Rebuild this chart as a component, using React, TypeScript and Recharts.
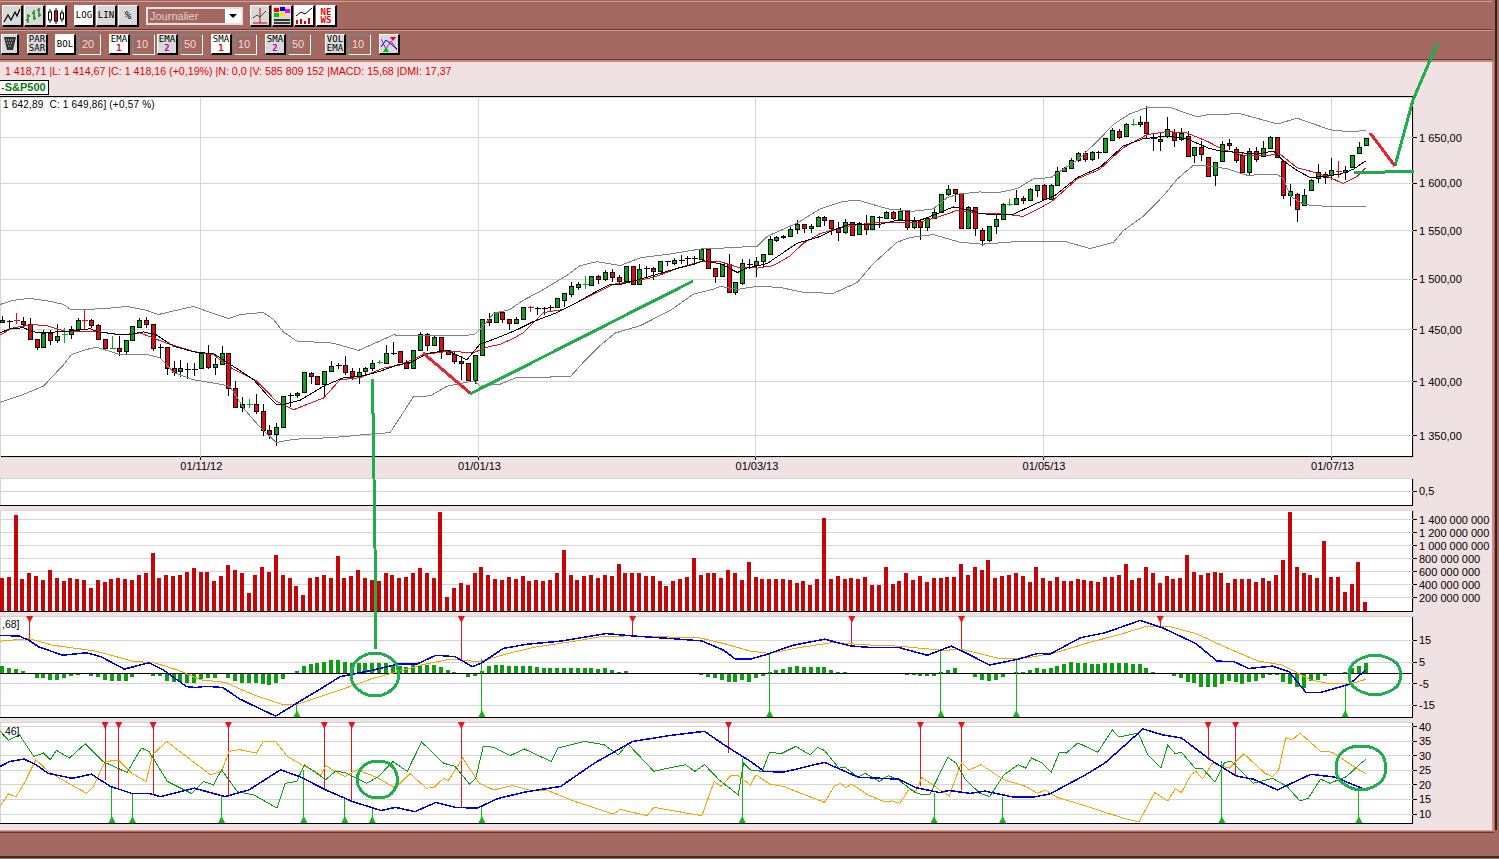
import React from 'react'
import {
  ComposedChart,
  Bar,
  Line,
  XAxis,
  YAxis,
  CartesianGrid,
  ReferenceLine,
  ReferenceDot,
} from 'recharts'

// daily S&P500 candles
const opens = [
  1458, 1459, 1459.5, 1459, 1456, 1441, 1433, 1447, 1440, 1445,
  1446, 1451, 1460, 1460, 1455, 1441, 1432, 1432, 1429, 1440,
  1453, 1460, 1456, 1433.5, 1433, 1413.5, 1410, 1412, 1412, 1413,
  1428, 1414, 1417, 1428, 1394, 1377, 1379, 1379, 1373, 1355,
  1352, 1358, 1388, 1388, 1391, 1408.5, 1406, 1398, 1410, 1416,
  1416, 1410, 1406, 1410, 1413, 1418, 1418, 1428, 1429, 1419,
  1413, 1430, 1446, 1435, 1443, 1430, 1427, 1420, 1418, 1402,
  1426, 1461, 1458, 1467, 1461, 1457, 1461, 1472, 1471, 1471,
  1472, 1472, 1479, 1485, 1492, 1495, 1494, 1503, 1500, 1508,
  1502, 1498, 1514, 1495, 1512, 1512, 1509, 1518.5, 1517, 1520,
  1522, 1522, 1521, 1531, 1512, 1503, 1516, 1487, 1496, 1516,
  1515, 1519, 1526, 1540, 1543, 1544, 1552, 1557, 1553, 1555,
  1564, 1561, 1553, 1549, 1559, 1547, 1557, 1552, 1564, 1563,
  1570, 1562, 1571, 1554, 1560, 1554, 1563, 1570, 1589, 1594,
  1590, 1553, 1575, 1551, 1540, 1555, 1562, 1578, 1578, 1585,
  1582, 1593, 1598, 1583, 1598, 1614, 1617, 1626, 1633, 1627,
  1634, 1634, 1648, 1658, 1652, 1665, 1665, 1668, 1650, 1647,
  1652, 1656, 1649, 1652, 1631, 1640, 1629, 1609, 1625, 1644,
  1638, 1631, 1612, 1636, 1630, 1639, 1651, 1625, 1588, 1589,
  1577, 1593, 1606, 1610, 1609, 1614, 1612, 1618, 1633, 1642,
]
const highs = [
  1464, 1460, 1466, 1463, 1462, 1441, 1450, 1450, 1456, 1452,
  1454, 1462, 1470, 1461, 1456, 1441, 1444, 1444, 1440, 1454,
  1462, 1463, 1456, 1436, 1433, 1420, 1421, 1418, 1418, 1428,
  1435, 1423, 1434, 1428, 1401, 1386, 1384, 1389, 1379, 1360,
  1362, 1387, 1390, 1391, 1409, 1409, 1406, 1410, 1420, 1418,
  1425, 1413, 1413, 1414, 1421, 1421, 1435, 1438, 1429, 1421,
  1430, 1448, 1447, 1444, 1443, 1430, 1429, 1425, 1418, 1426,
  1461, 1466, 1467, 1468, 1461, 1463, 1472, 1473, 1472, 1472,
  1474, 1481, 1486, 1497, 1497, 1503, 1503, 1504, 1510, 1511,
  1504, 1514, 1514, 1516, 1514, 1513, 1519, 1519, 1522, 1525,
  1524, 1524, 1531, 1531, 1512, 1516, 1526, 1497, 1521, 1521,
  1523, 1526, 1545, 1545, 1546, 1554, 1561, 1557, 1557, 1565,
  1565, 1561, 1559, 1562, 1559, 1559, 1566, 1565, 1565, 1571,
  1571, 1574, 1571, 1564, 1562, 1563, 1575, 1589, 1598, 1594,
  1590, 1576, 1575, 1553, 1555, 1566, 1579, 1583, 1593, 1587,
  1595, 1598, 1599, 1599, 1618, 1618, 1628, 1634, 1635, 1635,
  1636, 1650, 1661, 1660, 1667, 1671, 1674, 1686, 1655, 1655,
  1673, 1660, 1661, 1658, 1640, 1646, 1629, 1623, 1646, 1649,
  1640, 1633, 1639, 1640, 1647, 1652, 1651, 1625, 1599, 1590,
  1594, 1605, 1621, 1612, 1628, 1625, 1619, 1631, 1645, 1650,
]
const lows = [
  1457, 1450, 1456, 1452, 1441, 1430, 1433, 1435, 1437, 1437,
  1441, 1451, 1451, 1452, 1441, 1430, 1431, 1425, 1426, 1440,
  1453, 1452, 1429, 1422, 1407, 1406, 1405, 1403, 1406, 1412,
  1412, 1407, 1417, 1387, 1377, 1372, 1376, 1370, 1350, 1347,
  1341, 1358, 1377, 1385, 1391, 1398, 1398, 1385, 1410, 1412,
  1407, 1402, 1398, 1406, 1410, 1417, 1418, 1426, 1419, 1412,
  1413, 1430, 1429, 1434, 1422, 1427, 1417, 1402, 1400, 1398,
  1426, 1454, 1458, 1457, 1450, 1457, 1461, 1467, 1465, 1465,
  1467, 1471, 1472, 1482, 1489, 1490, 1494, 1495, 1498, 1497,
  1496, 1498, 1494, 1495, 1500, 1499, 1509, 1514, 1515, 1516,
  1515, 1515, 1521, 1511, 1496, 1503, 1487, 1484, 1494, 1511,
  1502, 1512, 1526, 1538, 1541, 1543, 1547, 1548, 1548, 1555,
  1555, 1546, 1539, 1547, 1544, 1547, 1546, 1552, 1553, 1563,
  1561, 1562, 1551, 1552, 1540, 1550, 1563, 1570, 1587, 1580,
  1553, 1553, 1544, 1534, 1538, 1547, 1562, 1576, 1578, 1578,
  1581, 1586, 1583, 1583, 1598, 1614, 1617, 1623, 1623, 1625,
  1627, 1634, 1646, 1649, 1652, 1663, 1662, 1649, 1635, 1636,
  1650, 1640, 1647, 1630, 1622, 1624, 1607, 1597, 1625, 1637,
  1622, 1610, 1608, 1623, 1630, 1639, 1628, 1583, 1576, 1559,
  1577, 1593, 1601, 1600, 1604, 1606, 1604, 1618, 1633, 1642,
]
const closes = [
  1460, 1459, 1459, 1456, 1441, 1433, 1447, 1440, 1444, 1445.5,
  1451, 1460, 1459.5, 1455, 1441, 1432, 1432.5, 1429, 1440, 1454,
  1460, 1456, 1432, 1433.5, 1413, 1409, 1413, 1412, 1412, 1428,
  1414, 1417, 1428, 1394, 1377, 1379, 1379.5, 1373, 1355, 1352,
  1358, 1387, 1388, 1390, 1409, 1406, 1398, 1410, 1415, 1416,
  1409, 1406, 1409, 1413, 1418, 1418.5, 1428, 1428, 1419, 1413,
  1430, 1446, 1435, 1443, 1430, 1427, 1420, 1418, 1402, 1426,
  1461, 1458, 1467, 1461, 1457, 1461, 1472, 1471.5, 1471, 1471,
  1472, 1481, 1486, 1493, 1495, 1495.5, 1503, 1500, 1508, 1502,
  1498, 1514, 1495, 1511, 1512, 1509, 1519, 1518.5, 1520, 1520,
  1522, 1522, 1531, 1512, 1503, 1516, 1487, 1497, 1517, 1516,
  1519, 1526, 1541, 1543, 1545, 1552, 1557, 1553, 1555, 1564,
  1561, 1553, 1549, 1559, 1546, 1558, 1552, 1565, 1564, 1570,
  1563, 1571, 1554, 1560, 1554, 1563, 1570, 1589, 1594, 1590,
  1553, 1575, 1553, 1540, 1555, 1562, 1578, 1578.5, 1585, 1582,
  1594, 1598, 1583, 1598, 1614, 1617, 1626, 1633, 1627, 1634,
  1634, 1650, 1659, 1651, 1666, 1665.5, 1668, 1655, 1650, 1649,
  1660, 1648, 1655, 1630, 1640, 1632, 1608, 1623, 1643, 1642,
  1626, 1613, 1636, 1627, 1639, 1651, 1629, 1588, 1592, 1573,
  1588, 1604, 1613, 1607, 1615, 1613.5, 1615, 1631, 1640, 1650,
]

// volume in millions of shares
const volumes = [
  513, 528, 1467, 498, 590, 544, 482, 636, 513, 467,
  513, 498, 482, 359, 482, 451, 498, 513, 498, 482,
  559, 575, 882, 513, 559, 544, 559, 605, 652, 605,
  605, 467, 544, 698, 621, 575, 282, 559, 667, 605,
  852, 559, 513, 390, 251, 513, 528, 559, 513, 836,
  513, 544, 621, 513, 482, 467, 575, 559, 513, 528,
  575, 652, 575, 513, 1513, 221, 359, 436, 405, 590,
  667, 559, 498, 482, 528, 498, 544, 467, 482, 467,
  482, 590, 929, 559, 482, 544, 559, 513, 559, 544,
  713, 575, 575, 575, 544, 544, 467, 390, 467, 498,
  528, 805, 559, 590, 590, 513, 636, 575, 482, 744,
  528, 498, 498, 498, 498, 482, 436, 467, 405, 498,
  1421, 498, 544, 498, 513, 498, 528, 405, 405, 667,
  421, 467, 575, 482, 544, 451, 513, 513, 528, 528,
  713, 559, 682, 621, 775, 513, 544, 559, 575, 544,
  451, 667, 513, 467, 528, 467, 467, 498, 482, 467,
  451, 528, 528, 559, 713, 482, 513, 667, 590, 436,
  544, 498, 513, 852, 605, 559, 575, 605, 575, 436,
  498, 498, 498, 451, 513, 467, 559, 775, 1513, 667,
  590, 559, 513, 1067, 528, 528, 298, 421, 744, 144,
]

const macdHist = [
  3.4, 2.4, 2, 1.1, 0, -2.1, -2.1, -3.1, -3.1, -2.1,
  -1.2, -0.9, -0.6, -1.2, -1.8, -3.1, -3.5, -3.7, -3.7, -1.8,
  -0.5, 0, -1.4, -1.4, -3.5, -4.3, -4.3, -4.7, -4.7, -2.6,
  -2.1, -2.1, -0.5, -2.1, -3.7, -4.4, -4.4, -4.7, -5.3, -5.6,
  -4.7, -2.7, -0.5, 1.1, 3.4, 4.1, 4.6, 5.2, 6.1, 6.1,
  5.2, 4.6, 4.4, 4.4, 4.4, 4.4, 4.4, 3.7, 3.4, 2.9,
  3.7, 3.7, 3.7, 3.7, 2.9, 1.4, 0.5, 0, -2, -1.2,
  1.1, 3.4, 3.8, 3.5, 3.4, 3.4, 3.4, 3.4, 2.9, 2.4,
  2.4, 2.4, 2.4, 2.4, 2.4, 2.4, 2.4, 1.8, 2.4, 1.4,
  0.6, 1.1, 0, 0, 0, 0, 0, 0, 0, 0,
  0, -0.5, -0.9, -1.7, -2.4, -3.2, -4.3, -4.3, -3.2, -4,
  -2.1, -1.2, 0.3, 1.4, 1.8, 2.9, 3.4, 2.9, 2.9, 2.9,
  2.6, 1.4, 0.6, 0.3, -0.3, -0.5, -0.5, -0.5, 0, 0,
  0, 0, -0.9, -1.1, -1.2, -1.5, -1.5, 0.6, 1.5, 2.1,
  0, -0.6, -1.8, -3.2, -3.5, -3.1, -1.7, -0.6, 0.6, 0.6,
  1.4, 2.4, 1.8, 2.1, 3.2, 4.3, 5.2, 4.7, 4.4, 4,
  4.1, 4.7, 4.7, 4.7, 4.6, 4.1, 4, 2.4, 0.6, 0,
  -0.6, -1.2, -2.1, -4, -4.4, -6.6, -6.6, -6.3, -5.2, -3.7,
  -4.3, -5, -4, -3.5, -2.4, -0.9, -0.9, -4, -5.2, -6.3,
  -6.7, -3.7, -3.2, -1.2, 0, 0, 0.6, 2.1, 3.4, 4.7,
]

type Knot = [number, number] // bar number, value

const bollUpper: Knot[] = [
  [-0.3, 1475], [1.6, 1479], [4, 1481], [7, 1478], [8.9, 1475], [10, 1470], [12.3, 1470], [15.2, 1471],
  [18.2, 1473], [21.1, 1469], [22.8, 1465], [24, 1467], [27.9, 1473], [30.8, 1466], [33, 1461], [34.7, 1465],
  [38.1, 1467], [39.6, 1460], [41, 1448], [43, 1439], [45.9, 1438], [48.3, 1437], [52, 1430], [57.1, 1445],
  [60.5, 1444], [68.8, 1445], [70, 1452], [71.7, 1466], [74.1, 1470], [76, 1479], [78.5, 1488], [82.4, 1504],
  [84.3, 1514], [86.8, 1518], [90.2, 1514], [93.1, 1522], [97.5, 1526], [101.9, 1531], [105.2, 1532], [110.2, 1534],
  [111.6, 1544], [116, 1558], [119.4, 1573], [122.7, 1581], [125, 1582], [129.2, 1573], [133, 1570.5], [135.9, 1573],
  [137.9, 1585], [139.8, 1589], [142.7, 1591], [145.2, 1590], [148.1, 1594.5], [150.5, 1605], [153, 1606.5], [157, 1626],
  [159.8, 1646], [162.2, 1665], [164.6, 1677], [167.1, 1684], [170.5, 1684], [174.4, 1673.5], [175.9, 1676], [180.7, 1677],
  [186.1, 1665.5], [189, 1672], [193.8, 1659], [196.3, 1657], [199, 1658],
]
const bollLower: Knot[] = [
  [-0.3, 1381], [2.6, 1387], [6, 1396], [8.9, 1416], [10.1, 1426], [12.3, 1431], [13.8, 1433], [17.2, 1426],
  [21.1, 1426], [23, 1423], [25, 1409], [27.9, 1402], [30.8, 1399], [33.2, 1396], [35.4, 1374], [37.6, 1358],
  [40, 1344], [42.5, 1347], [48.3, 1348.5], [54.2, 1352], [56.6, 1353], [58.1, 1367.5], [60, 1386], [62.5, 1387],
  [64.9, 1396], [68.8, 1401], [69.8, 1396], [72.7, 1398], [75, 1404], [82.9, 1405], [85, 1420], [87.3, 1435],
  [89.5, 1447], [93.1, 1454], [97.5, 1469], [100.8, 1485], [103.7, 1490], [104.8, 1493], [107.3, 1490], [110.2, 1493],
  [113.5, 1492], [116.9, 1487], [121.3, 1486], [124.8, 1497], [127.1, 1516], [130.6, 1538], [132.5, 1543], [135.9, 1546],
  [139.8, 1538], [143, 1536], [147.5, 1538.4], [151.9, 1539], [155, 1539], [158.8, 1531.5], [162.2, 1538], [163.6, 1550],
  [166.5, 1565], [169.5, 1587], [171.5, 1605], [173.8, 1619.5], [175.1, 1620], [178.8, 1616], [181.7, 1609], [186.1, 1610],
  [187, 1605], [188, 1586.5], [190, 1577.5], [194.3, 1575], [199, 1575],
]
const emaOne: Knot[] = [
  [-0.3, 1447], [1.1, 1451], [3.1, 1452], [4.5, 1448], [6, 1447], [8, 1448], [10.4, 1449], [12.8, 1451],
  [14, 1448], [16.2, 1446], [18.2, 1445], [20.6, 1448], [22.5, 1445], [25, 1434], [28.4, 1428], [30.8, 1427],
  [33.2, 1417], [36.7, 1402], [38.6, 1388], [40, 1379], [41, 1379], [43.5, 1383], [46.9, 1396], [49.8, 1404],
  [52.2, 1405], [55.1, 1410], [57.6, 1416], [59.5, 1418], [62, 1427], [64.9, 1430], [67.8, 1421], [69.7, 1436],
  [72.2, 1442], [75.1, 1450], [77.5, 1458], [81, 1467], [83.9, 1477], [86.2, 1486], [88.7, 1495], [90.2, 1495],
  [91.6, 1497.5], [95, 1504], [98.9, 1512], [100.8, 1515], [102.3, 1519], [104.8, 1516], [107.3, 1507], [108.7, 1511.5],
  [111.6, 1516], [113.5, 1525], [116, 1537], [119.4, 1544], [120.8, 1549], [123.3, 1556], [127.7, 1556], [130.6, 1561],
  [134, 1561], [136.5, 1568], [138.8, 1575], [141.3, 1571.5], [142.7, 1568], [144.6, 1567], [147.5, 1567], [151, 1579],
  [153.6, 1587], [156.9, 1606.5], [160.2, 1617.5], [163.6, 1641], [166.5, 1649], [170, 1652], [172.9, 1649], [175.9, 1639],
  [177.7, 1635.5], [180.2, 1634], [183.1, 1632], [185.5, 1635.5], [187, 1624.6], [189, 1614], [190.9, 1606.5], [192.8, 1607.6],
  [195.2, 1610], [197.2, 1615.5], [199, 1624.6],
]
const smaOne: Knot[] = [
  [-0.3, 1445], [1.6, 1452], [4.5, 1455], [6.5, 1454], [9.4, 1448], [14.3, 1448], [17.2, 1445], [20.1, 1447],
  [24, 1437], [27.9, 1429], [30.8, 1426], [33.7, 1412], [37.1, 1401], [40, 1382], [42.5, 1374], [44.9, 1380],
  [46.9, 1385], [49.3, 1402], [52.2, 1404], [55.6, 1413], [58, 1416], [61.5, 1426], [64.9, 1429], [68.8, 1428],
  [70.7, 1433], [72.7, 1436], [74.4, 1441], [76, 1447], [77.5, 1457], [79, 1467], [81.9, 1470], [83.9, 1477],
  [87.7, 1490], [89.1, 1495], [91.6, 1497.5], [95, 1502], [98.9, 1512], [101.9, 1518], [104.8, 1518], [107.3, 1512.5],
  [110.2, 1511.5], [112.5, 1514], [115, 1524], [116.9, 1537], [119.4, 1547], [122.7, 1554], [126.7, 1558], [130, 1559],
  [134, 1559], [136.9, 1565], [139.4, 1571.5], [143, 1568], [145.6, 1568], [149, 1565], [151, 1572], [153.2, 1581],
  [156.9, 1605], [160.2, 1615.5], [163.6, 1639], [167.1, 1653.6], [170, 1657], [172.9, 1655.4], [175.9, 1646], [178.2, 1637],
  [181.1, 1631], [183.6, 1630], [186.5, 1632], [189, 1617], [191.3, 1612.6], [193.8, 1606.5], [195.7, 1600], [197.8, 1608],
  [199, 1617],
]

const macdLine: Knot[] = [
  [-0.3, 17.4], [2.5, 17], [3.9, 15.1], [5.3, 12.1], [8.8, 8.2], [12.3, 9.3], [14.4, 7.5], [17.8, 1.8],
  [21.4, 4.7], [23.5, 1.4], [26.9, -6.3], [28.3, -6.7], [29.7, -6.1], [32.2, -6.7], [34.6, -11.9], [37.4, -16.2],
  [39.9, -19.9], [43, -13.9], [45.8, -8.6], [49.3, -1.7], [54.2, 1.4], [57.7, 4.1], [60.5, 4.1], [63.3, 8.2],
  [66.1, 7.5], [68.6, 2.9], [70, 4.7], [73.1, 11.3], [76.6, 13.3], [81.5, 14.7], [88.1, 18.2], [92, 17.1],
  [97.6, 15.9], [102.1, 14.8], [105.3, 10.5], [107, 6.4], [109.2, 6.4], [111.2, 8.2], [115.4, 12.8], [120, 15.6],
  [123.8, 12.5], [126.6, 11.8], [130.8, 11.8], [135, 8.2], [138.5, 12.4], [140.3, 9.8], [144.1, 3.7], [148.3, 6.4],
  [151.1, 9], [152.9, 8.7], [157.4, 16.3], [160.9, 18.5], [166.1, 24.3], [169.3, 20.9], [174.2, 13.6], [177.3, 5.5],
  [179.8, 5.2], [181.9, 2.1], [185.4, 3.2], [187.8, 0.6], [190.3, -9], [192.4, -9], [196.6, -5.2], [199, 1.4],
]
const macdSignal: Knot[] = [
  [-0.3, 14.7], [3.9, 15.9], [7.4, 12.8], [13.7, 10.1], [19.3, 5.2], [22, 4.9], [25.6, 1.4], [29, -3.2],
  [32.5, -4.3], [36.7, -10.1], [41, -14.7], [43, -14.4], [48.6, -8.6], [54.2, -2.4], [57.7, 0.6], [61.2, 3.7],
  [65.4, 6.4], [69.6, 5.2], [73.8, 9], [78, 12.1], [83.6, 14.7], [87.8, 17], [92, 17.1], [101.8, 16.2],
  [105.3, 13.6], [109.2, 10.1], [112, 9], [116.1, 11.6], [121, 14], [127.3, 12.8], [130.8, 12.4], [137.1, 10.5],
  [140.3, 10.8], [145.5, 6.7], [149.7, 7], [153.9, 9.5], [158.1, 13.6], [163, 17.7], [167.2, 21.7], [170.7, 21.2],
  [174.2, 18.2], [178.4, 12.1], [183.3, 5.5], [186.8, 3.7], [191, -3.2], [193.8, -5], [196.6, -5], [197.6, -4.3],
  [199, -2.9],
]

const adxLine: Knot[] = [
  [-0.3, 26.4], [1.1, 28.1], [3.2, 28.9], [4.9, 27], [6.7, 24], [10.2, 22.3], [13, 23.7], [15.8, 19.5],
  [18.9, 17.1], [21.4, 17.1], [23.1, 16], [28, 18.9], [32.5, 16], [36, 18.3], [40.6, 25.2], [43.4, 22.9],
  [47.2, 18.3], [51.1, 14.3], [55.3, 11.2], [57.4, 12.3], [60.2, 10.8], [63.3, 14], [66.1, 12.3], [69.3, 12],
  [72.4, 15.4], [76.6, 17.7], [81.5, 19.5], [86.4, 27.5], [92, 35], [97.6, 37.1], [102.5, 38.5], [105.3, 33.9],
  [109.2, 28.1], [111.2, 24.7], [114, 24.4], [120, 27.8], [124.9, 22.7], [130.8, 22], [133.3, 19.1], [136.8, 17.4],
  [138.2, 18.1], [141.3, 17.1], [143.4, 17.9], [147.6, 15.8], [150.4, 15.8], [152.9, 16.9], [158.1, 23.5], [160.9, 27.5],
  [166.5, 39.3], [169.3, 37.3], [172.1, 36.2], [176.3, 28.7], [180.1, 23.1], [182.6, 22], [186.1, 18.3], [191, 23.7],
  [194.5, 22.7], [197.6, 19.7], [199, 18.3],
]
const diPlus: Knot[] = [
  [-0.3, 38.5], [0.9, 35.4], [2.5, 37.3], [4.6, 29.8], [6, 31], [7, 28.7], [7.9, 31.9], [9.8, 29.3],
  [12.1, 34.2], [14.7, 28.1], [18.2, 24.3], [20.3, 32.7], [21.4, 31.6], [24.1, 21.2], [27.6, 17.1], [29.4, 21.2],
  [30.8, 20], [32, 25.2], [34.3, 17.7], [36.7, 16.6], [40.1, 12], [41.3, 20.6], [43, 21.2], [44.1, 27],
  [47.2, 21.8], [48.6, 24.7], [50, 24.3], [53.2, 20.6], [54.9, 22.9], [57, 28.1], [59.1, 24.7], [61.2, 34.8],
  [64.4, 27.5], [66.1, 26.4], [68.2, 20.3], [69.1, 22.3], [70.2, 33.3], [71.7, 33], [74.1, 30.1], [76.2, 32.4],
  [80.1, 28.1], [81.1, 32.7], [85, 35], [87.8, 33.9], [89.9, 30.4], [91.3, 34.2], [95.1, 24.7], [97.2, 25.8],
  [99.7, 27], [101.1, 24.7], [102.5, 27], [104.6, 21.8], [107.4, 16.6], [108.2, 27.5], [109.2, 25.2], [110.9, 24.7],
  [112, 31.3], [113.7, 30.8], [115.8, 33.3], [117.9, 30.4], [119, 33], [120, 31.9], [122.1, 25.8], [123, 26.1],
  [124.9, 22.7], [126, 24], [128, 21.2], [129.3, 23.2], [130.8, 21.8], [133, 17.7], [134.3, 16.6], [135.4, 16.9],
  [138, 29.6], [139.2, 27.5], [140.6, 21.8], [142.7, 17.1], [144.1, 16], [146.2, 23.5], [148.3, 27], [149.4, 25.8],
  [150.2, 29.3], [151.8, 27.5], [153.1, 24.4], [154.3, 31.3], [155.3, 31], [157, 34.5], [159.9, 31.3], [162, 39],
  [163, 36.5], [165.8, 37.9], [167.2, 30.4], [169.1, 25.8], [170.1, 33.7], [171.2, 30.8], [172.1, 31.3], [174.2, 25.5],
  [175.2, 25.6], [177, 21], [178.4, 27.8], [179.4, 28.1], [182.6, 20.6], [185.4, 22.3], [187.5, 19.5], [189.4, 14.5],
  [190.6, 15.4], [192.4, 22], [193.8, 20.6], [196.2, 22.9], [198.3, 27.5], [199, 28.7],
]
const diMinus: Knot[] = [
  [-0.3, 12.8], [0.9, 16.9], [2, 16], [3.2, 20.6], [4.9, 28.7], [6.7, 24.7], [8.8, 21.8], [12.3, 17.1],
  [13.3, 19.5], [15, 28.1], [17, 28.5], [18.9, 24], [21, 21.2], [21.9, 30.4], [24, 35], [27.6, 28.5],
  [30.4, 23.5], [32, 24.7], [33.1, 31.6], [34.6, 32.2], [37.1, 31], [38.1, 35], [39.9, 35], [41.6, 29.8],
  [43.7, 27], [46.5, 23.5], [47.2, 26.6], [50, 22.9], [51.8, 25.2], [54.6, 22.7], [57.4, 18.9], [59.5, 24],
  [61.9, 18.9], [63, 19.1], [64.4, 22.3], [65.1, 21.5], [67.2, 29.3], [69.6, 20.6], [71.7, 18.3], [74.5, 19.8],
  [77.3, 18], [79.4, 18.3], [83.6, 14.3], [89.2, 10], [90.2, 11.6], [94.1, 9.4], [95.1, 12.3], [102.1, 9.4],
  [103.9, 21.2], [104.9, 19.5], [106.3, 23.2], [107.4, 23.2], [109.2, 20], [110, 23.5], [112, 20.3], [114, 19.5],
  [116.8, 16.9], [120, 14], [121.4, 19.5], [122.3, 20.6], [123.1, 19.1], [124, 20.3], [126.3, 16.6], [128.7, 14.3],
  [129.8, 14.5], [131, 13.7], [132.4, 18.9], [133.3, 17.7], [134.2, 22.6], [138.2, 16.2], [140, 27.8], [141.1, 25.2],
  [142.9, 27], [146.2, 21.8], [149.4, 19.5], [151.1, 17.1], [152.2, 18.3], [153.9, 15.8], [158.1, 12.8], [163.7, 8.5],
  [165.9, 7.3], [168.2, 17.4], [170.1, 14.5], [171.2, 18.7], [172.1, 17.4], [173.5, 23.5], [174.2, 24.7], [175.2, 22.1],
  [176.6, 27.5], [179.1, 25.8], [181.2, 30.8], [184.3, 24], [185.4, 22.9], [186.3, 25.2], [187.3, 36.2], [188.3, 35.6],
  [189.4, 37.9], [192.4, 31.6], [194.1, 31.3], [197.6, 25.8], [199, 24],
]

// crossing signals: bar number, value where the stem ends
const macdSell: Knot[] = [[4, 15.1], [67, 5.5], [92, 17.1], [124, 12.8], [140, 9.8], [169, 21.2]]
const macdBuy: Knot[] = [[43, -14.7], [70, 6.4], [112, 9], [137, 10.5], [148, 6.4], [196, -5.2]]
const dmiSell: Knot[] = [
  [15, 21.8], [17, 18.9], [22, 16.6], [33, 16], [47, 18.5], [51, 14.3], [67, 12.3], [106, 31],
  [134, 19.5], [140, 18.1], [176, 28.7], [180, 23.1],
]
const dmiBuy: Knot[] = [
  [16, 19.8], [19, 17.1], [32, 16.2], [44, 25.2], [50, 15.4], [54, 12.3], [70, 13.1], [108, 29.3],
  [136, 17.4], [146, 15.8], [178, 28.1], [198, 18.9],
]

const dateTicks = [28.9, 69.5, 110, 151.9, 194]
const dateLabels = ['01/11/12', '01/01/13', '01/03/13', '01/05/13', '01/07/13']
const priceTicks = [1350, 1400, 1450, 1500, 1550, 1600, 1650]
const volumeTicks = [200, 400, 600, 800, 1000, 1200, 1400]
const macdTicks = [-15, -5, 5, 15]
const dmiTicks = [10, 15, 20, 25, 30, 35, 40]

// hand drawn marks on the screenshot, in screen units
const penGreen: Knot[][] = [
  [[372.3, 379], [372.3, 413], [373.3, 414], [374, 478], [375, 548], [376, 649]],
  [[470, 394], [693, 281]],
  [[1354, 172], [1385, 172], [1414, 171]],
  [[1395, 166], [1413, 100], [1437.5, 43]],
]
const penRed: Knot[][] = [
  [[423, 353], [470, 393]],
  [[1370, 133], [1395, 166]],
]
const penLoops: Knot[][] = [
  [[399, 675], [396, 685], [387, 693], [375, 696], [363, 693], [354, 685], [351, 675], [354, 664], [363, 656], [375, 653], [387, 656], [396, 664], [399, 675]],
  [[398, 780], [395, 789], [388, 796], [378, 798], [368, 796], [360, 789], [357, 780], [360, 770], [368, 763], [378, 761], [388, 763], [395, 770], [398, 780]],
  [[1401, 675], [1398, 685], [1388, 692], [1375, 695], [1362, 692], [1352, 685], [1349, 675], [1352, 665], [1362, 658], [1375, 655], [1388, 658], [1398, 665], [1401, 675]],
  [[1386, 768], [1383, 779], [1373, 787], [1361, 790], [1349, 787], [1339, 779], [1336, 768], [1339, 756], [1349, 748], [1361, 746], [1373, 748], [1383, 756], [1386, 768]],
]

const rows = opens.map((open, i) => ({
  i,
  open,
  high: highs[i],
  low: lows[i],
  close: closes[i],
  range: [lows[i], highs[i]],
  volume: volumes[i],
  hist: macdHist[i],
}))

const knots = (list: Knot[]) => list.map(([i, v]) => ({ i, v }))
const penPoints = (list: Knot[]) => list.map(([x, y]) => ({ x, y }))

const BROWN = '#a36860'
const PINK = '#f0e1e2'
const FONT = '"Liberation Sans", Arial, sans-serif'
const MONO = '"DejaVu Sans Mono", monospace'
const PLOT_W = 1413
const CHART_W = 1493
const X_DOMAIN: [number, number] = [-0.336, 205.9]
const NB = '\u00a0'

const comma = (v: number) => String(v).replace('.', ',')
const fmtPrice = (v: number) => `${String(v).replace(/^(\d)(\d{3})$/, `$1${NB}$2`)},00`
const fmtVolume = (m: number) =>
  m >= 1000 ? `1${NB}${String(m - 1000).padStart(3, '0')}${NB}000${NB}000` : `${m}${NB}000${NB}000`

function Candle(props: any) {
  const { x, y, width, height, payload } = props
  const { open, high, low, close } = payload
  const cx = Math.round(x + width / 2) + 0.5
  const at = (p: number) => (high === low ? y : y + (height * Math.log(high / p)) / Math.log(high / low))
  const top = Math.round(at(Math.max(open, close))) + 0.5
  const bottom = Math.round(at(Math.min(open, close))) + 0.5
  const diff = close - open
  const tiny = Math.abs(diff) <= 0.5
  const fill = diff > 0 ? '#0aa51c' : '#e30b12'
  const tickColor = diff === 0 ? '#000' : fill
  return (
    <g shapeRendering="crispEdges">
      <line x1={cx} x2={cx} y1={y} y2={y + height} stroke={tiny ? tickColor : '#000'} strokeWidth={1} />
      {tiny ? (
        <line x1={cx - 3} x2={cx + 3} y1={top} y2={top} stroke={tickColor} strokeWidth={1} />
      ) : (
        <rect x={cx - 2} y={top} width={4} height={Math.max(bottom - top, 1)} fill={fill} stroke="#000" strokeWidth={1} />
      )}
    </g>
  )
}

// the Lines' own data narrows the band width, so the bar is sized here
function HistBar(props: any) {
  const { x, y, width, height } = props
  const h = Math.abs(height)
  if (!h) return null
  return <rect x={Math.round(x + width / 2) - 2} y={Math.min(y, y + height)} width={4} height={h} fill="#0a9e10" shapeRendering="crispEdges" />
}

function signalMarks(sell: Knot[], buy: Knot[], top: number, bottom: number) {
  const marks: React.ReactNode[] = []
  sell.forEach(([i, v]) => {
    marks.push(
      <ReferenceLine key={`s${i}`} segment={[{ x: i, y: top }, { x: i, y: v }]} stroke="#e8141c" strokeWidth={1} />,
      <ReferenceDot
        key={`st${i}`}
        x={i}
        y={top}
        shape={(p: any) => <polygon points={`${p.cx - 3.5},${p.cy} ${p.cx + 3.5},${p.cy} ${p.cx},${p.cy + 7}`} fill="#e8141c" />}
      />,
    )
  })
  buy.forEach(([i, v]) => {
    marks.push(
      <ReferenceLine key={`b${i}`} segment={[{ x: i, y: bottom }, { x: i, y: v }]} stroke="#10b81c" strokeWidth={1} />,
      <ReferenceDot
        key={`bt${i}`}
        x={i}
        y={bottom}
        shape={(p: any) => <polygon points={`${p.cx - 3.5},${p.cy} ${p.cx + 3.5},${p.cy} ${p.cx},${p.cy - 7}`} fill="#10b81c" />}
      />,
    )
  })
  return marks
}

function PlotBox({ top, height }: { top: number; height: number }) {
  return (
    <div
      style={{
        position: 'absolute',
        left: 0,
        top,
        width: PLOT_W,
        height,
        boxSizing: 'border-box',
        background: '#fff',
        borderTop: '1px solid #000',
        borderBottom: '1px solid #000',
        borderRight: '1px solid #000',
      }}
    />
  )
}

const tickStyle = { fontSize: 11, fill: '#000', fontFamily: FONT }

function xAxis(showLabels: boolean) {
  return (
    <XAxis
      dataKey="i"
      type="number"
      domain={X_DOMAIN}
      allowDataOverflow
      ticks={dateTicks}
      interval={0}
      axisLine={false}
      tickLine={showLabels ? { stroke: '#000' } : false}
      tickSize={showLabels ? 3 : 0}
      height={showLabels ? 20 : 0}
      tick={showLabels ? { ...tickStyle, dx: 1 } : false}
      tickFormatter={(v: number) => dateLabels[dateTicks.indexOf(v)]}
    />
  )
}

const lineProps = { dataKey: 'v', dot: false, activeDot: false, isAnimationActive: false }

function PriceChart() {
  return (
    <ComposedChart width={CHART_W} height={380} data={rows} margin={{ top: 0, right: 0, bottom: 0, left: 0 }} style={{ position: 'absolute', left: 0, top: 97 }}>
      <CartesianGrid stroke="#d4d4d4" strokeWidth={1} />
      {xAxis(true)}
      <YAxis
        orientation="right"
        width={80}
        scale="log"
        domain={[1331, 1696]}
        allowDataOverflow
        ticks={priceTicks}
        interval={0}
        axisLine={false}
        tickLine={{ stroke: '#000' }}
        tickSize={4}
        tick={tickStyle}
        tickFormatter={fmtPrice}
      />
      <Line data={knots(bollUpper)} stroke="#808080" strokeWidth={1} {...lineProps} />
      <Line data={knots(bollLower)} stroke="#808080" strokeWidth={1} {...lineProps} />
      <Line data={knots(smaOne)} stroke="#e8101a" strokeWidth={1} {...lineProps} />
      <Line data={knots(emaOne)} stroke="#000" strokeWidth={1} {...lineProps} />
      <Bar dataKey="range" barSize={5} shape={Candle} isAnimationActive={false} />
    </ComposedChart>
  )
}

function BlankChart() {
  return (
    <ComposedChart width={CHART_W} height={27} data={rows} margin={{ top: 0, right: 0, bottom: 0, left: 0 }} style={{ position: 'absolute', left: 0, top: 478 }}>
      <CartesianGrid stroke="#d4d4d4" strokeWidth={1} />
      {xAxis(false)}
      <YAxis orientation="right" width={80} type="number" domain={[0, 1]} allowDataOverflow ticks={[0.5]} interval={0} axisLine={false} tickLine={{ stroke: '#000' }} tickSize={4} tick={tickStyle} tickFormatter={comma} />
      <Line dataKey={() => null} stroke="none" dot={false} activeDot={false} isAnimationActive={false} />
    </ComposedChart>
  )
}

function VolumeChart() {
  return (
    <ComposedChart width={CHART_W} height={101} data={rows} margin={{ top: 0, right: 0, bottom: 0, left: 0 }} style={{ position: 'absolute', left: 0, top: 510 }}>
      <CartesianGrid stroke="#d4d4d4" strokeWidth={1} />
      {xAxis(false)}
      <YAxis orientation="right" width={80} domain={[0, 1548]} ticks={volumeTicks} interval={0} axisLine={false} tickLine={{ stroke: '#000' }} tickSize={4} tick={tickStyle} tickFormatter={fmtVolume} />
      <Bar dataKey="volume" barSize={4} fill="#c60508" isAnimationActive={false} />
    </ComposedChart>
  )
}

function MacdChart() {
  const top = 26.3
  const bottom = -20.3
  return (
    <ComposedChart width={CHART_W} height={101} data={rows} margin={{ top: 0, right: 0, bottom: 0, left: 0 }} style={{ position: 'absolute', left: 0, top: 616 }}>
      <CartesianGrid stroke="#d4d4d4" strokeWidth={1} />
      {xAxis(false)}
      <YAxis orientation="right" width={80} domain={[bottom, top]} allowDataOverflow ticks={macdTicks} interval={0} axisLine={false} tickLine={{ stroke: '#000' }} tickSize={4} tick={tickStyle} />
      <Bar dataKey="hist" barSize={4} shape={HistBar} isAnimationActive={false} />
      <ReferenceLine y={0} stroke="#000" strokeWidth={1} />
      {signalMarks(macdSell, macdBuy, top, bottom)}
      <Line data={knots(macdSignal)} stroke="#f0a800" strokeWidth={1} {...lineProps} />
      <Line data={knots(macdLine)} stroke="#0000d8" strokeWidth={1.5} {...lineProps} />
    </ComposedChart>
  )
}

function DmiChart() {
  const top = 41.7
  const bottom = 6.9
  return (
    <ComposedChart width={CHART_W} height={101} data={rows} margin={{ top: 0, right: 0, bottom: 0, left: 0 }} style={{ position: 'absolute', left: 0, top: 722 }}>
      <CartesianGrid stroke="#d4d4d4" strokeWidth={1} />
      {xAxis(false)}
      <YAxis orientation="right" width={80} domain={[bottom, top]} allowDataOverflow ticks={dmiTicks} interval={0} axisLine={false} tickLine={{ stroke: '#000' }} tickSize={4} tick={tickStyle} />
      {signalMarks(dmiSell, dmiBuy, top, bottom)}
      <Line data={knots(diMinus)} stroke="#f0a800" strokeWidth={1} {...lineProps} />
      <Line data={knots(diPlus)} stroke="#0a9e10" strokeWidth={1} {...lineProps} />
      <Line data={knots(adxLine)} stroke="#0000d8" strokeWidth={1.5} {...lineProps} />
    </ComposedChart>
  )
}

function PenOverlay() {
  const pen = { dataKey: 'y', dot: false, activeDot: false, isAnimationActive: false, strokeWidth: 3 }
  return (
    <ComposedChart width={1499} height={859} margin={{ top: 0, right: 0, bottom: 0, left: 0 }} style={{ position: 'absolute', left: 0, top: 0 }}>
      <XAxis hide dataKey="x" type="number" domain={[0, 1499]} />
      <YAxis hide type="number" domain={[0, 859]} reversed />
      {penGreen.map((p, n) => (
        <Line key={`g${n}`} data={penPoints(p)} stroke="#20ad4e" {...pen} />
      ))}
      {penRed.map((p, n) => (
        <Line key={`r${n}`} data={penPoints(p)} stroke="#ea2330" {...pen} />
      ))}
      {penLoops.map((p, n) => (
        <Line key={`l${n}`} data={penPoints(p)} type="natural" stroke="#20ad4e" {...pen} />
      ))}
    </ComposedChart>
  )
}

function Btn({ x, y, w = 21, h = 22, on, children }: { x: number; y: number; w?: number; h?: number; on?: boolean; children: React.ReactNode }) {
  return (
    <div
      style={{
        position: 'absolute',
        left: x,
        top: y,
        width: w,
        height: h,
        boxSizing: 'border-box',
        background: on ? '#fff' : '#d9d9d9',
        borderLeft: '1px solid #fff',
        borderTop: '1px solid #fff',
        borderRight: '2px solid #000',
        borderBottom: '2px solid #000',
        fontFamily: MONO,
        fontSize: 9,
        lineHeight: '9px',
        color: '#000',
        textAlign: 'center',
        display: 'flex',
        flexDirection: 'column',
        justifyContent: 'center',
        alignItems: 'center',
        overflow: 'hidden',
      }}
    >
      {children}
    </div>
  )
}

function Field({ x, text }: { x: number; text: string }) {
  return (
    <div
      style={{
        position: 'absolute',
        left: x,
        top: 34,
        width: 23,
        height: 21,
        boxSizing: 'border-box',
        background: BROWN,
        borderLeft: '2px solid #808080',
        borderTop: '2px solid #808080',
        borderRight: '1px solid #fff',
        borderBottom: '1px solid #fff',
        color: '#e8dcdc',
        fontFamily: FONT,
        fontSize: 11,
        lineHeight: '17px',
        paddingLeft: 2,
      }}
    >
      {text}
    </div>
  )
}

function Icon({ children }: { children: React.ReactNode }) {
  return (
    <svg width={18} height={18} viewBox="0 0 18 18">
      {children}
    </svg>
  )
}

function Toolbar() {
  return (
    <>
      <Btn x={2} y={5}>
        <Icon>
          <polyline points="1,15 5,8 8,13 12,5 14,9 17,2" fill="none" stroke="#000" strokeWidth={1.2} />
        </Icon>
      </Btn>
      <Btn x={24} y={5}>
        <Icon>
          <path d="M3 7v9M1 13h2M3 9h2M9 3v10M7 6h2M9 11h2M14 1v9M12 3h2M14 8h2" stroke="#0a8a10" strokeWidth={1.4} fill="none" />
        </Icon>
      </Btn>
      <Btn x={46} y={5} on>
        <Icon>
          <path d="M3 2v14M9 1v16M15 3v12" stroke="#000" />
          <rect x="1.5" y="5" width="3" height="8" fill="#fff" stroke="#000" />
          <rect x="7.5" y="4" width="3" height="10" fill="#e30b12" stroke="#000" />
          <rect x="13.5" y="6" width="3" height="6" fill="#fff" stroke="#000" />
        </Icon>
      </Btn>
      <Btn x={74} y={5} on>LOG</Btn>
      <Btn x={96} y={5}>LIN</Btn>
      <Btn x={118} y={5}><span style={{ fontSize: 11 }}>%</span></Btn>
      <div style={{ position: 'absolute', left: 146, top: 7, width: 97, height: 18, boxSizing: 'border-box', border: '2px solid #e8e0e0', background: BROWN, color: '#e0d0d0', fontFamily: FONT, fontSize: 11, lineHeight: '14px', paddingLeft: 2 }}>
        Journalier
        <div style={{ position: 'absolute', right: 0, top: 0, width: 16, height: 14, background: '#fff' }}>
          <svg width={16} height={14}>
            <polygon points="4,5 12,5 8,9" fill="#000" />
          </svg>
        </div>
      </div>
      <Btn x={250} y={5}>
        <Icon>
          <path d="M2 16h14M9 1v15" stroke="#c00" />
          <polyline points="2,11 6,8 9,10 15,4" fill="none" stroke="#444" />
        </Icon>
      </Btn>
      <Btn x={272} y={5}>
        <Icon>
          <rect x="1" y="1" width="5" height="4" fill="#e00" />
          <rect x="7" y="0" width="5" height="4" fill="#00e" />
          <rect x="12" y="2" width="5" height="4" fill="#e0e" />
          <rect x="1" y="6" width="5" height="4" fill="#0c0" />
          <rect x="7" y="5" width="5" height="4" fill="#ee0" />
          <path d="M1 13h16M1 16h16" stroke="#000" strokeWidth={1.5} />
        </Icon>
      </Btn>
      <Btn x={294} y={5} on>
        <Icon>
          <polyline points="1,9 6,5 10,7 17,1" fill="none" stroke="#000" />
          <path d="M2 17v-4M6 17v-5M10 17v-3M14 17v-6" stroke="#d00" strokeWidth={2} />
        </Icon>
      </Btn>
      <Btn x={316} y={5} on>
        <span style={{ color: '#e00', fontWeight: 700, lineHeight: '8px' }}>NE<br />WS</span>
      </Btn>

      <Btn x={1} y={34} w={18} h={21}>
        <Icon>
          <polygon points="3,2 15,2 12,15 6,15" fill="#333" />
          <path d="M5 5h8M6 8h6M7 11h4" stroke="#ddd" strokeDasharray="1 1" />
        </Icon>
      </Btn>
      <Btn x={27} y={34} h={21}>PAR<br />SAR</Btn>
      <Btn x={55} y={34} h={21} on>BOL</Btn>
      <Field x={78} text="20" />
      <Btn x={109} y={34} h={21} on>EMA<span style={{ color: '#e00', fontWeight: 700 }}>1</span></Btn>
      <Field x={132} text="10" />
      <Btn x={157} y={34} h={21}>EMA<span style={{ color: '#c000c0', fontWeight: 700 }}>2</span></Btn>
      <Field x={180} text="50" />
      <Btn x={211} y={34} h={21} on>SMA<span style={{ color: '#e00', fontWeight: 700 }}>1</span></Btn>
      <Field x={234} text="10" />
      <Btn x={265} y={34} h={21}>SMA<span style={{ color: '#c000c0', fontWeight: 700 }}>2</span></Btn>
      <Field x={288} text="50" />
      <Btn x={325} y={34} h={21}>VOL<br />EMA</Btn>
      <Field x={348} text="10" />
      <Btn x={379} y={34} h={21}>
        <Icon>
          <polyline points="1,4 6,14 11,6 17,15" fill="none" stroke="#e000e0" />
          <polyline points="1,12 6,5 11,9 17,14" fill="none" stroke="#0000d8" />
          <polygon points="10,2 16,2 13,6" fill="#e00" />
          <polygon points="3,17 9,17 6,12" fill="#0b0" />
        </Icon>
      </Btn>
    </>
  )
}

const crispCss = `
.recharts-cartesian-grid line,
.recharts-reference-line line,
.recharts-cartesian-axis-tick-line,
path.recharts-curve,
path.recharts-rectangle { shape-rendering: crispEdges; }
`

export default function App() {
  return (
    <div style={{ position: 'absolute', left: 0, top: 0, width: 1499, height: 859, overflow: 'hidden', background: PINK }}>
      <style>{crispCss}</style>
      {/* window frame */}
      <div style={{ position: 'absolute', left: 0, top: 0, width: 1499, height: 62, background: BROWN }} />
      <div style={{ position: 'absolute', left: 0, top: 1, width: 1494, height: 1, background: '#dd9a90' }} />
      <div style={{ position: 'absolute', left: 0, top: 29, width: 1494, height: 1, background: '#5e3d38' }} />
      <div style={{ position: 'absolute', left: 0, top: 30, width: 1494, height: 1, background: '#dd9a90' }} />
      <div style={{ position: 'absolute', left: 0, top: 59, width: 1494, height: 1, background: '#5e3d38' }} />
      <div style={{ position: 'absolute', left: 0, top: 60, width: 1492, height: 2, background: '#c98a80' }} />
      <div style={{ position: 'absolute', left: 1492, top: 0, width: 7, height: 859, background: BROWN }} />
      <div style={{ position: 'absolute', left: 1492, top: 61, width: 2, height: 770, background: '#d98a80' }} />
      <div style={{ position: 'absolute', left: 1495, top: 0, width: 2, height: 859, background: '#2e2422' }} />
      <div style={{ position: 'absolute', left: 0, top: 830, width: 1499, height: 29, background: BROWN }} />
      <div style={{ position: 'absolute', left: 0, top: 830, width: 1494, height: 1, background: '#e0a096' }} />
      <div style={{ position: 'absolute', left: 0, top: 832, width: 1494, height: 1, background: '#5e3d38' }} />
      <div style={{ position: 'absolute', left: 0, top: 856, width: 1499, height: 2, background: '#3a2a28' }} />

      <Toolbar />

      <div style={{ position: 'absolute', left: 5, top: 65, color: '#e00000', fontFamily: FONT, fontSize: 10.65, whiteSpace: 'pre' }}>
        1 418,71 |L: 1 414,67 |C: 1 418,16 (+0,19%) |N: 0,0 |V: 585 809 152 |MACD: 15,68 |DMI: 17,37
      </div>
      <div style={{ position: 'absolute', left: -1, top: 80, width: 50, height: 15, boxSizing: 'border-box', border: '1px solid #000', background: '#fff', color: '#0a7a10', fontFamily: FONT, fontWeight: 700, fontSize: 11, lineHeight: '13px', paddingLeft: 1, whiteSpace: 'pre' }}>
        -S&amp;P500
      </div>

      <PlotBox top={96} height={361} />
      <PlotBox top={478} height={28} />
      <PlotBox top={510} height={102} />
      <PlotBox top={616} height={102} />
      <PlotBox top={722} height={102} />

      <PriceChart />
      <BlankChart />
      <VolumeChart />
      <MacdChart />
      <DmiChart />

      <div style={{ position: 'absolute', left: 3, top: 99, fontFamily: FONT, fontSize: 10, letterSpacing: 0.2, color: '#000', whiteSpace: 'pre' }}>
        1 642,89  C: 1 649,86] (+0,57 %)
      </div>
      <div style={{ position: 'absolute', left: 2, top: 618, fontFamily: FONT, fontSize: 10.5, color: '#000' }}>,68]</div>
      <div style={{ position: 'absolute', left: 2, top: 725, fontFamily: FONT, fontSize: 10.5, color: '#000' }}>,46]</div>

      <PenOverlay />
    </div>
  )
}
